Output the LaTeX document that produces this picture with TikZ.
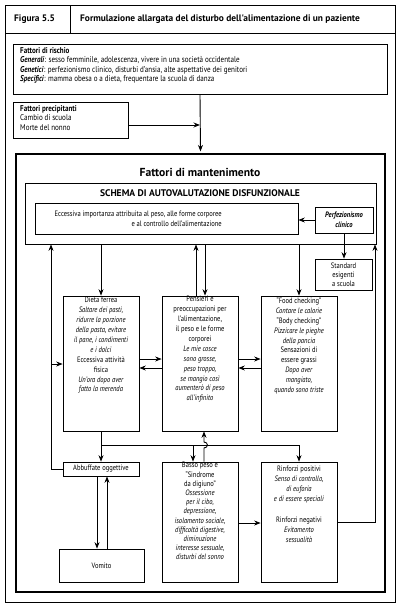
\documentclass[tikz,border=0pt]{standalone}
\usepackage{fontspec}
\setmainfont[FakeStretch=0.84]{PT Sans}
\newfontfamily\widefont{PT Sans}
\usetikzlibrary{arrows.meta}
\tikzset{
  bx/.style={draw, line width=0.7pt, inner sep=0pt},
  thickbx/.style={draw, line width=2.6pt, inner sep=0pt},
  arr/.style={line width=0.9pt, -{Stealth[length=6.5pt,width=5pt]}},
  ln/.style={line width=0.9pt},
  txt/.style={font=\fontsize{7.8}{9.9}\selectfont, align=center, inner sep=0pt},
  txtb/.style={font=\fontsize{7.8}{9.2}\selectfont, align=center, inner sep=0pt},
  toptxt/.style={font=\fontsize{8.4}{9.5}\selectfont, align=left, inner sep=0pt, anchor=north west},
  hdr/.style={font=\widefont\bfseries\fontsize{9.4}{10}\selectfont, inner sep=0pt, anchor=base west},
}
\begin{document}
\begin{tikzpicture}[x=1pt,y=-1pt]
\useasboundingbox (0,0) rectangle (400,610);
% outer frame and header
\node[bx, minimum width=390pt, minimum height=597pt] (frame) at (200,303.5) {};
\node[bx, minimum width=65pt, minimum height=28pt] (hdra) at (37.5,19) {};
\node[bx, minimum width=325pt, minimum height=28pt] (hdrb) at (232.5,19) {};
\node[hdr] (hdrat) at (14,21.5) {Figura 5.5};
\node[hdr] (hdrbt) at (80,21.5) {Formulazione allargata del disturbo dell'alimentazione di un paziente};
% risk factors
\node[bx, minimum width=374pt, minimum height=50pt] (risc) at (200,69) {};
\node[toptxt] (risct) at (20,47) {\textbf{Fattori di rischio}\\
\textbf{\textit{Generali}}: sesso femminile, adolescenza, vivere in una società occidentale\\
\textbf{\textit{Genetici}}: perfezionismo clinico, disturbi d'ansia, alte aspettative dei genitori\\
\textbf{\textit{Specifici}}: mamma obesa o a dieta, frequentare la scuola di danza};
\node[bx, minimum width=115pt, minimum height=36pt] (prec) at (70.5,120) {};
\node[toptxt] (prect) at (20,105) {\textbf{Fattori precipitanti}\\Cambio di scuola\\Morte del nonno};
% maintenance frame
\node[thickbx, minimum width=369pt, minimum height=438pt] (mant) at (200.5,373) {};
\node[font=\widefont\bfseries\fontsize{11.6}{13}\selectfont, inner sep=0pt] (mantt) at (200,172) {Fattori di mantenimento};
\node[bx, minimum width=351pt, minimum height=61pt] (schema) at (200.5,213.5) {};
\node[font=\widefont\bfseries\fontsize{9.6}{11}\selectfont, inner sep=0pt] (schemat) at (200,193) {SCHEMA DI AUTOVALUTAZIONE DISFUNZIONALE};
\node[bx, minimum width=263pt, minimum height=31pt] (ecc) at (166.5,218.5) {};
\node[txt, align=right, anchor=east] (ecct) at (222,218.5) {Eccessiva importanza attribuita al peso, alle forme corporee\\e al controllo dell'alimentazione};
\node[bx, minimum width=58pt, minimum height=26pt] (perf) at (344,220) {};
\node[txt, font=\bfseries\itshape\fontsize{7.8}{10.5}\selectfont] (perft) at (344,220) {Perfezionismo\\clinico};
\node[bx, minimum width=57pt, minimum height=31pt] (std) at (343.5,274.5) {};
\node[txtb] (stdt) at (343.5,274.5) {Standard\\esigenti\\a scuola};
% three middle boxes
\node[bx, minimum width=76pt, minimum height=135pt] (dieta) at (101,363.5) {};
\node[bx, minimum width=76pt, minimum height=135pt] (pens) at (200,363.5) {};
\node[bx, minimum width=76pt, minimum height=135pt] (food) at (299,363.5) {};
\node[txt, anchor=north] (dietat) at ([yshift=-1.5pt]dieta.north) {Dieta ferrea\\
\textit{Saltare dei pasti,}\\\textit{ridurre la porzione}\\\textit{della pasta, evitare}\\\textit{il pane, i condimenti}\\\textit{e i dolci}\\
Eccessiva attività\\fisica\\
\textit{Un'ora dopo aver}\\\textit{fatto la merenda}};
\node[txt, anchor=north] (penst) at ([yshift=-0.5pt]pens.north) {Pensieri e\\preoccupazioni per\\l'alimentazione,\\il peso e le forme\\corporei\\
\textit{Le mie cosce}\\\textit{sono grosse,}\\\textit{peso troppo,}\\\textit{se mangio così}\\\textit{aumenterò di peso}\\\textit{all'infinito}};
\node[txt, anchor=north] (foodt) at ([yshift=-1.5pt]food.north) {“Food checking”\\\textit{Contare le calorie}\\“Body checking”\\
\textit{Pizzicare le pieghe}\\\textit{della pancia}\\Sensazioni di\\essere grassi\\
\textit{Dopo aver}\\\textit{mangiato,}\\\textit{quando sono triste}};
% bottom boxes
\node[bx, minimum width=76pt, minimum height=14pt] (abb) at (101,469) {};
\node[txt] (abbt) at (101,469) {Abbuffate oggettive};
\node[bx, minimum width=85pt, minimum height=33pt] (vom) at (101.5,565.5) {};
\node[txt] (vomt) at (101.5,565.5) {Vomito};
\node[bx, minimum width=76pt, minimum height=120pt] (basso) at (200,522) {};
\node[txtb, anchor=north] (bassot) at ([yshift=-0.5pt]basso.north) {Basso peso e\\“Sindrome\\da digiuno”\\
\textit{Ossessione}\\\textit{per il cibo,}\\\textit{depressione,}\\\textit{isolamento sociale,}\\\textit{difficoltà digestive,}\\\textit{diminuzione}\\\textit{interesse sessuale,}\\\textit{disturbi del sonno}};
\node[bx, minimum width=76pt, minimum height=120pt] (rinf) at (299,522) {};
\node[txt, anchor=north] (rinft) at ([yshift=-4pt]rinf.north) {Rinforzi positivi\\\textit{Senso di controllo,}\\\textit{di euforia}\\\textit{e di essere speciali}\\[12pt]
Rinforzi negativi\\\textit{Evitamento}\\\textit{sessualità}};
% connectors: top
\coordinate (j1) at (200,125);
\draw[arr] (risc.south) -- ([yshift=1.3pt]mant.north);
\draw[arr] (prec.east |- j1) -- (j1);
\draw[arr] (perf.west) -- (perf.west -| ecc.east);
\draw[arr] (perf.south) -- (perf.south |- std.north);
\draw[arr] (dieta.north |- schema.south) -- (dieta.north);
\draw[arr] ([xshift=-4pt]pens.north) -- ([xshift=-4pt]pens.north |- schema.south);
\draw[arr] ([xshift=5pt]pens.north |- schema.south) -- ([xshift=5pt]pens.north);
\draw[arr] (food.north |- schema.south) -- (food.north);
% horizontal pairs
\draw[arr] ([yshift=4.5pt]dieta.east) -- ([yshift=4.5pt]dieta.east -| pens.west);
\draw[arr] ([yshift=-4.5pt]pens.west) -- ([yshift=-4.5pt]pens.west -| dieta.east);
\draw[arr] ([yshift=4.5pt]pens.east) -- ([yshift=4.5pt]pens.east -| food.west);
\draw[arr] ([yshift=-4.5pt]food.west) -- ([yshift=-4.5pt]food.west -| pens.east);
% branching below
\coordinate (br) at (101,445);
\coordinate (bb) at (193,445);
\coordinate (bf) at (299,445);
\draw[ln] (dieta.south) -- (br) -- (bf);
\draw[arr] (br) -- (abb.north);
\draw[arr] (bb) -- (bb |- basso.north);
\draw[arr] (bf) -- (rinf.north);
\coordinate (hu) at (204,448);
\coordinate (hd) at (204,442);
\draw[arr] (hu |- basso.north) -- (hu) .. controls (208.5,448) and (208.5,442) .. (hd) -- (hd |- pens.south);
\draw[arr] ([yshift=-1pt]basso.east) -- ([yshift=-1pt]basso.east -| rinf.west);
% right loop
\coordinate (rc) at (375,522);
\draw[arr] (rinf.east |- rc) -- (rc) -- (rc |- schema.south);
% left loop
\coordinate (lc) at (51,469);
\coordinate (lm) at (51,364);
\draw[arr] (abb.west) -- (lc) -- (lc |- schema.south);
\draw[arr] (lm) -- (lm -| dieta.west);
% binge / vomit
\draw[arr] ([xshift=-4pt]abb.south) -- ([xshift=-4.5pt]vom.north);
\draw[arr] ([xshift=5.5pt]vom.north) -- ([xshift=6pt]abb.south);
\end{tikzpicture}
\end{document}
